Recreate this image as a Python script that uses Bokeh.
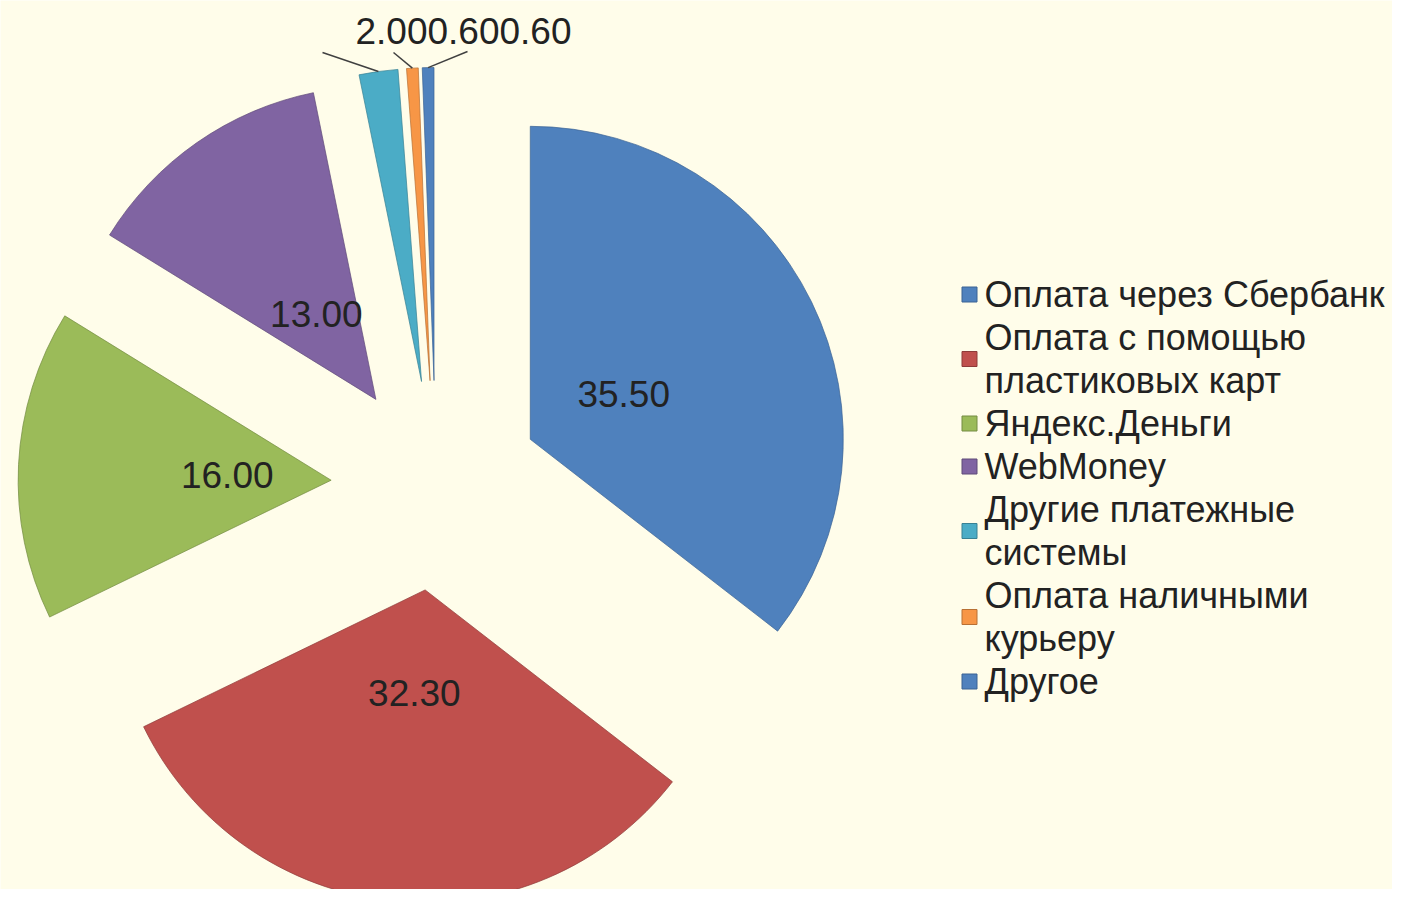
import math
from bokeh.plotting import figure
from bokeh.models import Range1d
from bokeh.core.properties import value
from bokeh.embed import file_html
from bokeh.resources import INLINE

# ---- data ----
categories = ["Оплата через Сбербанк", "Оплата с помощью пластиковых карт",
              "Яндекс.Деньги", "WebMoney", "Другие платежные системы",
              "Оплата наличными курьеру", "Другое"]
shares = [35.5, 32.3, 16.0, 13.0, 2.0, 0.6, 0.6]
colors = ["#4F81BD", "#C0504D", "#9BBB59", "#8064A2", "#4BACC6", "#F79646", "#4F81BD"]
edge_colors = ["#3A6394", "#8E3B39", "#748C42", "#5F4A79", "#388194", "#B87034", "#3A6394"]
legend_lines = [["Оплата через Сбербанк"],
                ["Оплата с помощью", "пластиковых карт"],
                ["Яндекс.Деньги"],
                ["WebMoney"],
                ["Другие платежные", "системы"],
                ["Оплата наличными", "курьеру"],
                ["Другое"]]

# ---- layout (reference pixel coordinates; data y = H - screen y) ----
W, H = 1408, 905
PW, PH = 1392, 889
BG = "#FFFDEA"
FONT = "Liberation Sans"
cx, cy = 435.5, H - 485.0
R = 313.0
EXPLODE = 105.0
LABEL_R = 104.0
outside_text_x = [391, 463, 535]
outside_text_y = H - 30
leader_start = [(322, H - 52), (393, H - 52), (467, H - 51)]

p = figure(width=PW, height=PH, output_backend="svg", toolbar_location=None,
           x_range=Range1d(0, PW), y_range=Range1d(H - PH, H), min_border=0)
p.axis.visible = False
p.grid.visible = False
p.outline_line_color = None
p.background_fill_color = BG
p.border_fill_color = BG

total = sum(shares)
cum = 0.0
xs, ys, starts, ends, mids = [], [], [], [], []
for v in shares:
    a0 = math.radians(90 - (cum + v) / total * 360)
    a1 = math.radians(90 - cum / total * 360)
    m = (a0 + a1) / 2
    cum += v
    xs.append(cx + EXPLODE * math.cos(m))
    ys.append(cy + EXPLODE * math.sin(m))
    starts.append(a0)
    ends.append(a1)
    mids.append(m)

p.wedge(x=xs, y=ys, radius=R, start_angle=starts, end_angle=ends,
        fill_color=colors, line_color=edge_colors, line_width=1, line_alpha=0.7,
        direction="anticlock")

in_x, in_y, in_t = [], [], []
out_x, out_y, out_t = [], [], []
lead_x, lead_y = [], []
k = 0
for i, v in enumerate(shares):
    if v >= 5:
        in_x.append(xs[i] + LABEL_R * math.cos(mids[i]))
        in_y.append(ys[i] + LABEL_R * math.sin(mids[i]))
        in_t.append(f"{v:.2f}")
    else:
        out_x.append(outside_text_x[k])
        out_y.append(outside_text_y)
        out_t.append(f"{v:.2f}")
        ex = xs[i] + R * math.cos(mids[i])
        ey = ys[i] + R * math.sin(mids[i])
        lead_x.append([leader_start[k][0], ex])
        lead_y.append([leader_start[k][1], ey])
        k += 1

p.multi_line(xs=lead_x, ys=lead_y, line_color="#404040", line_width=1.5)
p.text(x=in_x, y=in_y, text=in_t, text_font=value(FONT), text_font_size="37px",
       text_color="#222222", text_align="center", text_baseline="middle")
p.text(x=out_x, y=out_y, text=out_t, text_font=value(FONT), text_font_size="37px",
       text_color="#222222", text_align="center", text_baseline="middle")

# legend
leg_x0 = 969
txt_x0 = 984
line_y0 = 294
step = 43
mk_x, mk_y, tx, ty, tt = [], [], [], [], []
n = 0
for i, lines in enumerate(legend_lines):
    ylist = []
    for ln in lines:
        yy = H - (line_y0 + step * n)
        tx.append(txt_x0)
        ty.append(yy)
        tt.append(ln)
        ylist.append(yy)
        n += 1
    mk_x.append(leg_x0)
    mk_y.append(sum(ylist) / len(ylist))

p.rect(x=mk_x, y=mk_y, width=15, height=15, fill_color=colors,
       line_color=edge_colors, line_width=1)
p.text(x=tx, y=ty, text=tt, text_font=value(FONT), text_font_size="36px",
       text_color="#222222", text_align="left", text_baseline="middle")

open("out.html", "w").write(file_html(p, INLINE))
